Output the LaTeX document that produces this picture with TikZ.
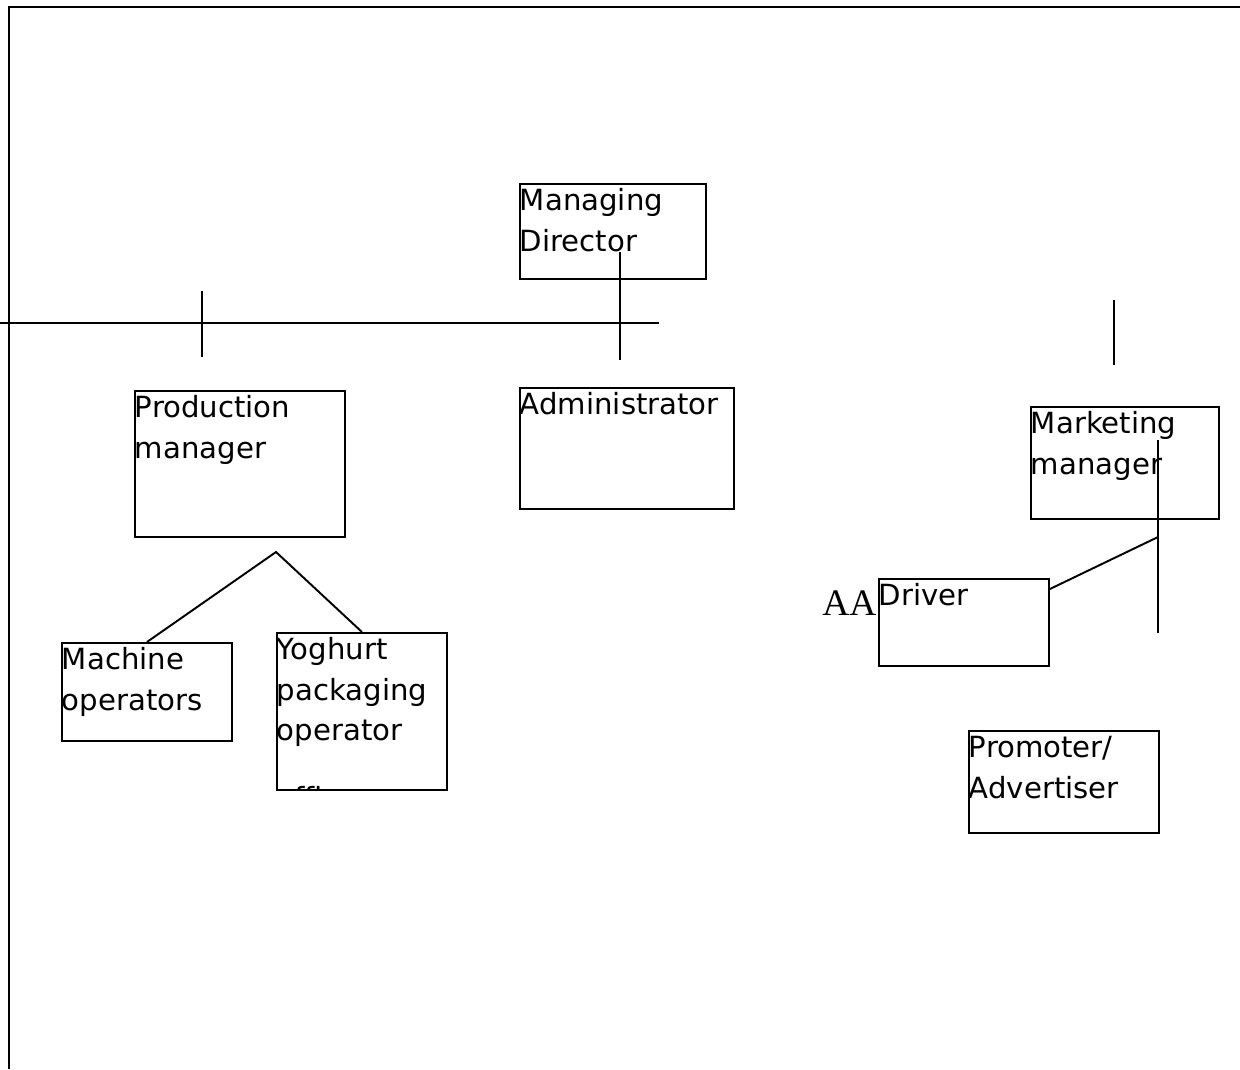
\documentclass[tikz,border=0pt]{standalone}
\usepackage{fontspec}
\setmainfont{DejaVu Sans}
\newfontfamily\aafont{Liberation Serif}

\tikzset{
  orgbox/.style={draw, line width=1.1pt, inner sep=0pt, anchor=north west,
    align=left, text height=0.54cm, font=\fontsize{16.6pt}{22.8pt}\selectfont},
  orgline/.style={line width=1.1pt}
}

\begin{document}
\begin{tikzpicture}[x=0.02cm, y=-0.02cm]
  \useasboundingbox (0,0) rectangle (1240,1069);

  % Rahmen
  \draw[orgline] (9,1069) -- (9,7) -- (1240,7);

  % Kaesten
  \node[orgbox, text width=3.72cm, text depth=1.36cm] (md) at (519,183) {Managing\\Director};
  \node[orgbox, text width=4.28cm, text depth=1.88cm] (adm) at (519,387) {Administrator};
  \node[orgbox, text width=4.20cm, text depth=2.38cm] (prod) at (134,390) {Production\\manager};
  \node[orgbox, text width=3.76cm, text depth=1.70cm] (mkt) at (1030,406) {Marketing\\manager};
  \node[orgbox, text width=3.40cm, text depth=1.42cm] (mach) at (61,642) {Machine\\operators};
  \begin{scope}
    \clip (274,630) rectangle (448,790);
    \node[orgbox, text width=3.40cm, text depth=2.60cm] (yog) at (276,632)
      {Yoghurt\\packaging\\operator\\[0.56cm]officer};
  \end{scope}
  \node[orgbox, text width=3.40cm, text depth=1.20cm] (drv) at (878,578) {Driver};
  \node[orgbox, text width=3.80cm, text depth=1.50cm] (prom) at (968,730) {Promoter/\\Advertiser};
  \node[font=\aafont\fontsize{21.3pt}{25pt}\selectfont, anchor=base west, inner sep=0pt]
    (aa) at (822,615) {AA};

  % Linien
  \coordinate (hleft) at (0,323);
  \coordinate (hright) at (659,323);
  \coordinate (ptop) at (202,291);
  \coordinate (pbot) at (202,357);
  \coordinate (mdtop) at (620,252);
  \coordinate (mdbot) at (620,360);
  \coordinate (mtop) at (1114,300);
  \coordinate (mbot) at (1114,365);
  \coordinate (mktop) at (1158,440);
  \coordinate (mkjoin) at (1158,537);
  \coordinate (mkbot) at (1158,633);
  \coordinate (prodfork) at (276,552);

  \draw[orgline] (hleft) -- (hright);
  \draw[orgline] (ptop) -- (pbot);
  \draw[orgline] (mdtop) -- (mdbot);
  \draw[orgline] (mtop) -- (mbot);
  \draw[orgline] (mktop) -- (mkbot);
  \draw[orgline] ([yshift=-0.22cm]drv.north east) -- (mkjoin);
  \draw[orgline] (mach.north) -- (prodfork) -- (yog.north);
\end{tikzpicture}
\end{document}
